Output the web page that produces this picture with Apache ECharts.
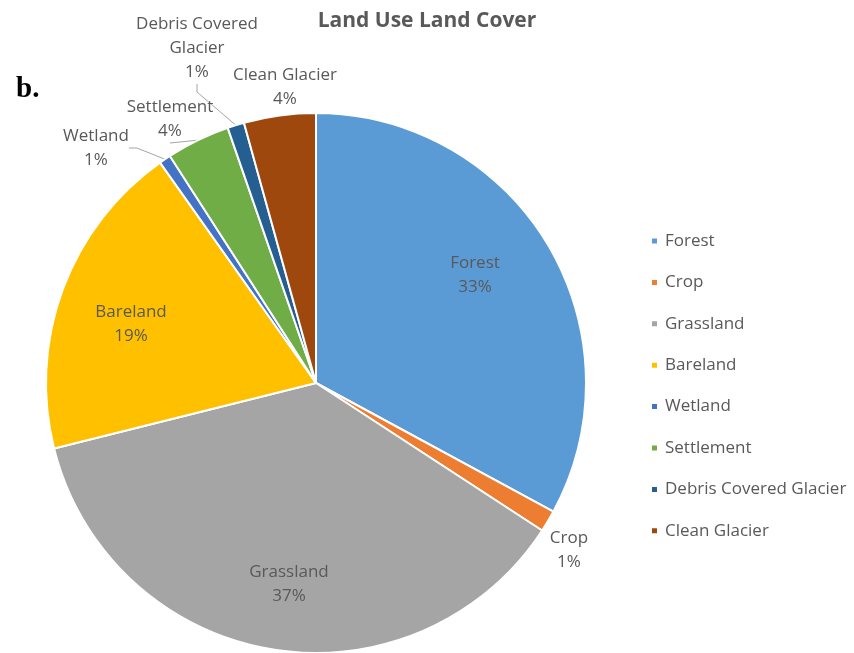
<!DOCTYPE html>
<html>
<head>
<meta charset="utf-8">
<script src="https://cdn.jsdelivr.net/npm/echarts@6/dist/echarts.min.js"></script>
<style>
  html, body { margin: 0; padding: 0; background: #ffffff; }
  #chart { width: 854px; height: 653px; }
</style>
</head>
<body>
<div id="chart"></div>
<script>
// Land cover classes and their share of the area (%)
const categories = ['Forest', 'Crop', 'Grassland', 'Bareland', 'Wetland', 'Settlement', 'Debris Covered Glacier', 'Clean Glacier'];
const shares = [32.9, 1.3, 36.9, 19.1, 0.7, 3.8, 1.0, 4.3];
const labelNames = ['Forest', 'Crop', 'Grassland', 'Bareland', 'Wetland', 'Settlement', 'Debris Covered\nGlacier', 'Clean Glacier'];

const colors = ['#5B9BD5', '#ED7D31', '#A5A5A5', '#FFC000', '#4472C4', '#70AD47', '#255E91', '#9E480E'];

// Label placement: inside labels sit on the slice, small slices get callouts
const insideSet = ['Forest', 'Grassland', 'Bareland'];
const leaderSet = ['Wetland', 'Settlement', 'Debris Covered Glacier'];
const labelAnchor = {
  'Forest': [475, 275],
  'Crop': [569, 550],
  'Grassland': [289, 584],
  'Bareland': [131, 324],
  'Wetland': [96, 148],
  'Settlement': [170, 119],
  'Debris Covered Glacier': [197, 48],
  'Clean Glacier': [285, 87]
};

const FONT = '"Open Sans", "Noto Sans", sans-serif';
const TEXT = '#595959';

const pieData = categories.map((name, i) => ({
  name: name,
  value: shares[i],
  label: {
    position: insideSet.includes(name) ? 'inside' : 'outside',
    formatter: labelNames[i] + '\n{d}%'
  },
  labelLine: { show: leaderSet.includes(name) }
}));

const chart = echarts.init(document.getElementById('chart'), null, { renderer: 'canvas' });
chart.setOption({
  animation: false,
  backgroundColor: '#ffffff',
  color: colors,
  title: {
    text: 'Land Use Land Cover',
    left: 'center',
    top: 6,
    textStyle: { fontFamily: FONT, fontSize: 21, fontWeight: 'bold', color: TEXT }
  },
  graphic: [{
    type: 'text',
    left: 16,
    top: 75,
    style: { text: 'b.', font: 'bold 29px "Liberation Serif", "DejaVu Serif", serif', fill: '#000000' }
  }],
  legend: {
    orient: 'vertical',
    left: 645,
    top: 227,
    icon: 'rect',
    itemWidth: 7,
    itemHeight: 7,
    itemGap: 23.4,
    textStyle: { fontFamily: FONT, fontSize: 17, color: TEXT, lineHeight: 18, padding: [0, 0, 0, 2] },
    data: categories
  },
  series: [{
    type: 'pie',
    center: [316, 383],
    radius: 270,
    startAngle: 90,
    clockwise: true,
    avoidLabelOverlap: false,
    percentPrecision: 0,
    itemStyle: { borderColor: '#ffffff', borderWidth: 2 },
    label: {
      fontFamily: FONT,
      fontSize: 17,
      color: TEXT,
      lineHeight: 24,
      align: 'center'
    },
    labelLine: {
      lineStyle: { color: '#A6A6A6', width: 1 },
      length: 8,
      length2: 8
    },
    labelLayout: function (params) {
      const p = labelAnchor[categories[params.dataIndex]];
      return { x: p[0], y: p[1], align: 'center', verticalAlign: 'middle' };
    },
    data: pieData
  }]
});
</script>
</body>
</html>
